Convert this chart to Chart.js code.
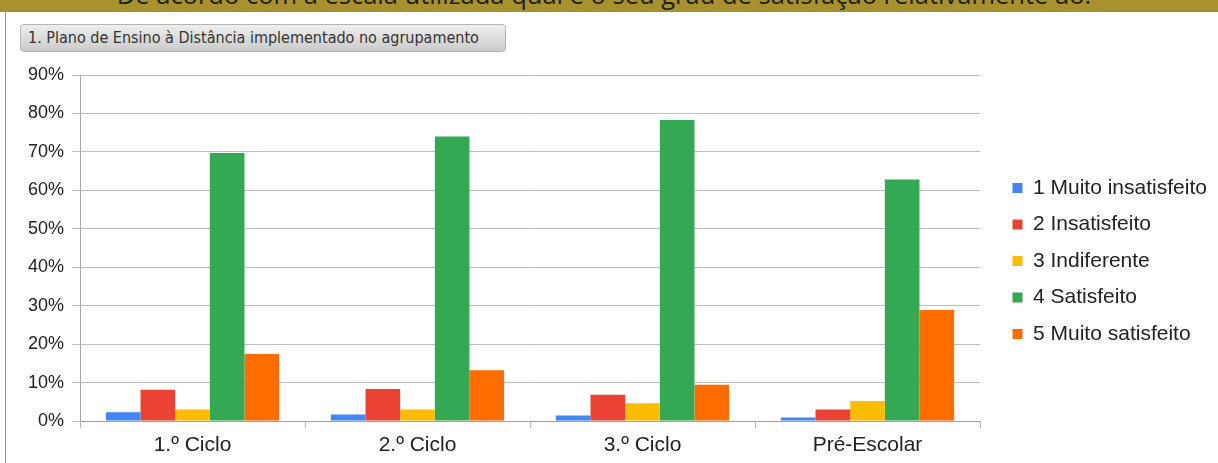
<!DOCTYPE html>
<html>
<head>
<meta charset="utf-8">
<script src="https://cdn.jsdelivr.net/npm/chart.js@4.4.1/dist/chart.umd.min.js"></script>
<style>
  html, body { margin: 0; padding: 0; background: #fff; width: 1218px; height: 463px; overflow: hidden; position: relative; }
  #banner { position: absolute; left: 0; top: 0; width: 1218px; height: 11px; background: #A8912F; overflow: hidden; border-bottom: 1px solid #8a8a8a; }
  #banner span { position: absolute; left: -5px; width: 1218px; top: -18px; text-align: center; font-family: "Open Sans", sans-serif; font-size: 25.5px; line-height: 25px; color: #1e1e1e; white-space: nowrap; }
  #leftline { position: absolute; left: 5px; top: 12px; width: 1px; height: 451px; background: #9a9a9a; }
  #label { position: absolute; left: 20px; top: 24px; width: 477px; height: 26px; border: 1px solid #b4b4b4; border-radius: 4px; background: linear-gradient(#eeeeee, #cbcbcb); font-family: "DejaVu Sans Condensed", "DejaVu Sans", sans-serif; font-size: 16px; line-height: 26px; color: #333; padding-left: 7px; box-sizing: content-box; white-space: nowrap; }
  #wrap { position: absolute; left: 0; top: 55px; width: 1218px; height: 408px; }
</style>
</head>
<body>
<div id="banner"><span>De acordo com a escala utilizada qual é o seu grau de satisfação relativamente ao:</span></div>
<div id="leftline"></div>
<div id="label">1. Plano de Ensino à Distância implementado no agrupamento</div>
<div id="wrap"><canvas id="c"></canvas></div>
<script>
const categories = ["1.º Ciclo", "2.º Ciclo", "3.º Ciclo", "Pré-Escolar"];
const seriesNames = ["1 Muito insatisfeito", "2 Insatisfeito", "3 Indiferente", "4 Satisfeito", "5 Muito satisfeito"];
const muitoInsatisfeito = [2.3, 1.7, 1.4, 0.9];
const insatisfeito = [8.1, 8.3, 6.8, 3.0];
const indiferente = [3.0, 3.0, 4.6, 5.2];
const satisfeito = [69.7, 74.0, 78.3, 62.8];
const muitoSatisfeito = [17.4, 13.2, 9.4, 28.9];
const seriesColors = ["#4285F4", "#EA4335", "#FBBC04", "#34A853", "#FF6D01"];
const yTicks = [0, 10, 20, 30, 40, 50, 60, 70, 80, 90];

const seriesValues = [muitoInsatisfeito, insatisfeito, indiferente, satisfeito, muitoSatisfeito];

const legendPlace = {
  id: 'legendPlace',
  beforeLayout(chart) {
    const lg = chart.legend;
    if (lg && !lg._patched) {
      const f = lg.fit;
      lg.fit = function () { f.call(this); this.width = 238; };
      lg._patched = true;
    }
  },
  afterLayout(chart) {
    const lg = chart.legend;
    lg.left += 17; lg.right += 17;
    lg.top -= 8; lg.bottom -= 8;
  }
};

new Chart(document.getElementById('c'), {
  type: 'bar',
  data: {
    labels: categories,
    datasets: seriesNames.map((n, i) => ({
      label: n,
      data: seriesValues[i],
      backgroundColor: seriesColors[i],
      borderWidth: 0,
      categoryPercentage: 0.77,
      barPercentage: 1.0
    }))
  },
  options: {
    responsive: true,
    maintainAspectRatio: false,
    animation: false,
    layout: { padding: { top: 20, left: 0, right: 0, bottom: 0 } },
    plugins: {
      legend: {
        position: 'right',
        labels: {
          boxWidth: 10, boxHeight: 10, padding: 15.5,
          color: '#222',
          font: { family: 'Liberation Sans, Arial, sans-serif', size: 21 }
        }
      },
      tooltip: { enabled: false }
    },
    scales: {
      x: {
        offset: true,
        grid: { drawOnChartArea: false, offset: true, tickLength: 7, color: '#b5b5b5' },
        border: { color: '#9e9e9e' },
        ticks: { color: '#222', padding: 5, font: { family: 'Liberation Sans, Arial, sans-serif', size: 21 }, maxRotation: 0 },
        afterFit(s) { s.height = 42; }
      },
      y: {
        min: 0, max: 90,
        afterBuildTicks(s) { s.ticks = yTicks.map(v => ({ value: v })); },
        grid: { color: '#bdbdbd', tickLength: 8 },
        border: { color: '#a8a8a8' },
        ticks: { color: '#222', padding: 8, font: { family: 'Liberation Sans, Arial, sans-serif', size: 18 }, callback: v => v + '%' },
        afterFit(s) { s.width = 80; }
      }
    }
  },
  plugins: [legendPlace]
});
</script>
</body>
</html>
